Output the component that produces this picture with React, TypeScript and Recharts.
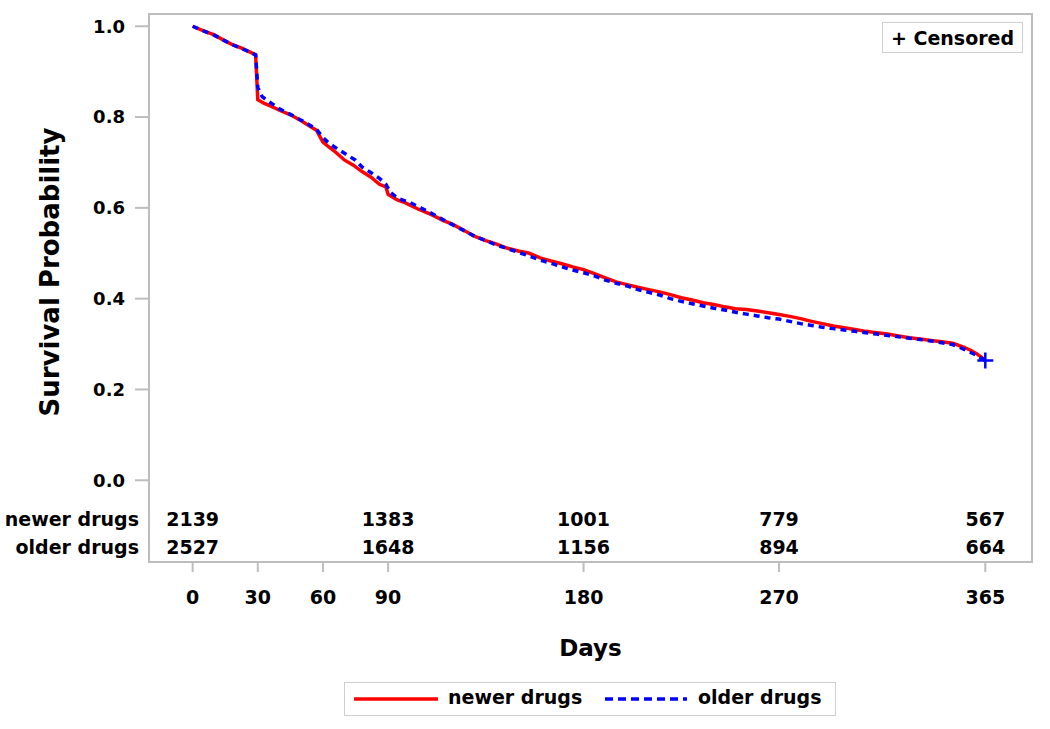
import {
  ComposedChart,
  Line,
  Scatter,
  XAxis,
  YAxis,
  ReferenceArea,
} from "recharts";

// Kaplan-Meier estimates
const newerDays = [
  0, 5, 10, 14, 18, 22, 26, 29, 30, 33, 36, 40, 45, 50, 54, 57, 60, 63, 66, 70,
  74, 78, 82, 86, 89, 90, 94, 98, 104, 110, 115, 120, 125, 130, 135, 140, 145, 150,
  155, 160, 165, 170, 175, 180, 185, 190, 195, 200, 205, 210, 215, 220, 225, 230,
  235, 240, 245, 250, 255, 260, 265, 270, 275, 280, 285, 290, 295, 300, 305, 310,
  315, 320, 325, 330, 335, 340, 345, 350, 355, 358, 361, 363, 365,
];
const newerSurv = [
  1.0, 0.99, 0.981, 0.97, 0.96, 0.953, 0.944, 0.937, 0.838, 0.83, 0.824, 0.815,
  0.805, 0.792, 0.78, 0.771, 0.745, 0.733, 0.722, 0.705, 0.694, 0.68, 0.668,
  0.652, 0.646, 0.63, 0.618, 0.611, 0.597, 0.585, 0.573, 0.563, 0.55, 0.537, 0.528,
  0.52, 0.511, 0.505, 0.5, 0.49, 0.483, 0.477, 0.47, 0.464, 0.455, 0.446, 0.437,
  0.431, 0.425, 0.42, 0.415, 0.409, 0.402, 0.397, 0.391, 0.387, 0.382, 0.378,
  0.376, 0.373, 0.369, 0.365, 0.361, 0.356, 0.35, 0.345, 0.34, 0.336, 0.332,
  0.328, 0.325, 0.322, 0.318, 0.314, 0.311, 0.308, 0.305, 0.302, 0.293, 0.287,
  0.279, 0.272, 0.264,
];

const olderDays = [
  0, 5, 10, 14, 18, 22, 26, 29, 30, 32, 34, 37, 40, 45, 50, 54, 57, 60, 62, 65,
  68, 72, 75, 78, 82, 86, 89, 91, 95, 100, 105, 110, 115, 120, 125, 130, 135,
  140, 145, 150, 155, 160, 165, 170, 175, 180, 185, 190, 195, 200, 205, 210, 215,
  220, 225, 230, 235, 240, 245, 250, 255, 260, 265, 270, 275, 280, 285, 290, 295,
  300, 305, 310, 315, 320, 325, 330, 335, 340, 345, 350, 355, 358, 361, 363, 365,
];
const olderSurv = [
  1.0, 0.99, 0.98, 0.97, 0.96, 0.952, 0.944, 0.937, 0.865, 0.845, 0.838, 0.828,
  0.818, 0.806, 0.793, 0.782, 0.773, 0.755, 0.746, 0.735, 0.726, 0.714, 0.705,
  0.69, 0.678, 0.665, 0.652, 0.634, 0.62, 0.612, 0.6, 0.588, 0.575, 0.562, 0.55,
  0.537, 0.528, 0.518, 0.51, 0.502, 0.494, 0.485, 0.478, 0.47, 0.463, 0.457,
  0.45, 0.441, 0.434, 0.428, 0.42, 0.414, 0.408, 0.4, 0.394, 0.389, 0.384, 0.379,
  0.375, 0.37, 0.366, 0.362, 0.358, 0.355, 0.35, 0.345, 0.341, 0.337, 0.334,
  0.331, 0.328, 0.325, 0.322, 0.319, 0.316, 0.313, 0.31, 0.307, 0.303, 0.299,
  0.289, 0.282, 0.275, 0.269, 0.264,
];

const censoredDay = 365;
const censoredSurv = 0.264;

// numbers at risk
const riskDays = [0, 90, 180, 270, 365];
const newerAtRisk = [2139, 1383, 1001, 779, 567];
const olderAtRisk = [2527, 1648, 1156, 894, 664];

const xTicks = [0, 30, 60, 90, 180, 270, 365];
const yTicks = [0, 0.2, 0.4, 0.6, 0.8, 1.0];

const X_MIN = -20.1;
const X_MAX = 386.5;
const Y_MIN = -0.18;
const Y_MAX = 1.027;
// rows of the at-risk table sit below 0 inside the frame
const NEWER_ROW = -0.086;
const OLDER_ROW = -0.148;

const FONT = "'DejaVu Sans', sans-serif";
const FRAME = "#bdbdbd";

const newerData = newerDays.map((d, i) => ({ day: d, s: newerSurv[i] }));
const olderData = olderDays.map((d, i) => ({ day: d, s: olderSurv[i] }));
const riskData = [
  ...riskDays.map((d, i) => ({ day: d, lvl: NEWER_ROW, n: newerAtRisk[i] })),
  ...riskDays.map((d, i) => ({ day: d, lvl: OLDER_ROW, n: olderAtRisk[i] })),
];
const censorData = [{ day: censoredDay, s: censoredSurv }];

const RiskText = (p: any) => (
  <text
    x={p.cx}
    y={p.cy}
    textAnchor="middle"
    dominantBaseline="central"
    fontSize={19}
    fontWeight="bold"
    fill="#000"
    fontFamily={FONT}
  >
    {p.payload.n}
  </text>
);

const Plus = (p: any) => (
  <path
    d={`M${p.cx - 8},${p.cy}h16M${p.cx},${p.cy - 8}v16`}
    stroke="#0000ff"
    strokeWidth={2.5}
    fill="none"
  />
);

export default function App() {
  return (
    <div
      style={{
        position: "absolute",
        left: 0,
        top: 0,
        width: 1050,
        height: 729,
        background: "#fff",
        fontFamily: FONT,
      }}
    >
      <ComposedChart
        width={1050}
        height={729}
        margin={{ top: 14, right: 18, bottom: 117, left: 0 }}
      >
        <XAxis
          dataKey="day"
          type="number"
          domain={[X_MIN, X_MAX]}
          allowDataOverflow
          ticks={xTicks}
          interval={0}
          height={50}
          axisLine={false}
          tickLine={{ stroke: FRAME, strokeWidth: 2 }}
          tickSize={10}
          tickMargin={19}
          tick={{ fill: "#000", fontSize: 19, fontWeight: "bold", fontFamily: FONT }}
          label={{
            content: (props: any) => {
              const vb = props.viewBox;
              return (
                <text
                  x={vb.x + vb.width / 2}
                  y={648}
                  textAnchor="middle"
                  dominantBaseline="central"
                  fontSize={23}
                  fontWeight="bold"
                  fontFamily={FONT}
                  fill="#000"
                >
                  Days
                </text>
              );
            },
          }}
        />
        <YAxis
          type="number"
          domain={[Y_MIN, Y_MAX]}
          allowDataOverflow
          ticks={yTicks}
          interval={0}
          width={149}
          axisLine={false}
          tickLine={{ stroke: FRAME, strokeWidth: 2 }}
          tickSize={14}
          tickMargin={10}
          tickFormatter={(v: number) => v.toFixed(1)}
          tick={{ fill: "#000", fontSize: 18, fontWeight: "bold", fontFamily: FONT }}
          label={{
            content: () => (
              <text
                x={50}
                y={272}
                transform="rotate(-90 50 272)"
                textAnchor="middle"
                dominantBaseline="central"
                fontSize={26}
                fontWeight="bold"
                fontFamily={FONT}
                fill="#000"
              >
                Survival Probability
              </text>
            ),
          }}
        />
        <ReferenceArea
          x1={X_MIN}
          x2={X_MAX}
          y1={Y_MIN}
          y2={Y_MAX}
          fill="none"
          stroke={FRAME}
          strokeWidth={2}
          ifOverflow="visible"
        />
        <Line
          data={newerData}
          dataKey="s"
          type="linear"
          stroke="#ff0000"
          strokeWidth={3.5}
          dot={false}
          activeDot={false}
          isAnimationActive={false}
        />
        <Line
          data={olderData}
          dataKey="s"
          type="linear"
          stroke="#0000ff"
          strokeWidth={3.5}
          strokeDasharray="6 5"
          dot={false}
          activeDot={false}
          isAnimationActive={false}
        />
        <Scatter data={censorData} dataKey="s" shape={Plus} isAnimationActive={false} />
        <Scatter data={riskData} dataKey="lvl" shape={RiskText} isAnimationActive={false} />
      </ComposedChart>

      {/* at-risk row labels */}
      {[
        { t: "newer drugs", y: 519 },
        { t: "older drugs", y: 547 },
      ].map((r) => (
        <div
          key={r.t}
          style={{
            position: "absolute",
            right: 1050 - 139,
            top: r.y - 12,
            height: 24,
            lineHeight: "24px",
            fontSize: 19,
            fontWeight: "bold",
            whiteSpace: "nowrap",
          }}
        >
          {r.t}
        </div>
      ))}

      {/* censored note */}
      <div
        style={{
          position: "absolute",
          left: 882,
          top: 22,
          width: 141,
          height: 31,
          border: "1px solid #cfcfcf",
          boxSizing: "border-box",
          display: "flex",
          alignItems: "center",
          justifyContent: "center",
          fontSize: 19,
          fontWeight: "bold",
          whiteSpace: "nowrap",
        }}
      >
        + Censored
      </div>

      {/* legend */}
      <div
        style={{
          position: "absolute",
          left: 344,
          top: 682,
          width: 492,
          height: 34,
          border: "1px solid #cfcfcf",
          boxSizing: "border-box",
          fontSize: 19,
          fontWeight: "bold",
        }}
      >
        <svg
          width={492}
          height={32}
          style={{ position: "absolute", left: 0, top: 0 }}
        >
          <line x1={9} x2={93} y1={16} y2={16} stroke="#ff0000" strokeWidth={3.5} />
          <line
            x1={260}
            x2={342}
            y1={16}
            y2={16}
            stroke="#0000ff"
            strokeWidth={3.5}
            strokeDasharray="8 5"
          />
        </svg>
        <span style={{ position: "absolute", left: 103, top: 3, whiteSpace: "nowrap" }}>
          newer drugs
        </span>
        <span style={{ position: "absolute", left: 353, top: 3, whiteSpace: "nowrap" }}>
          older drugs
        </span>
      </div>
    </div>
  );
}
